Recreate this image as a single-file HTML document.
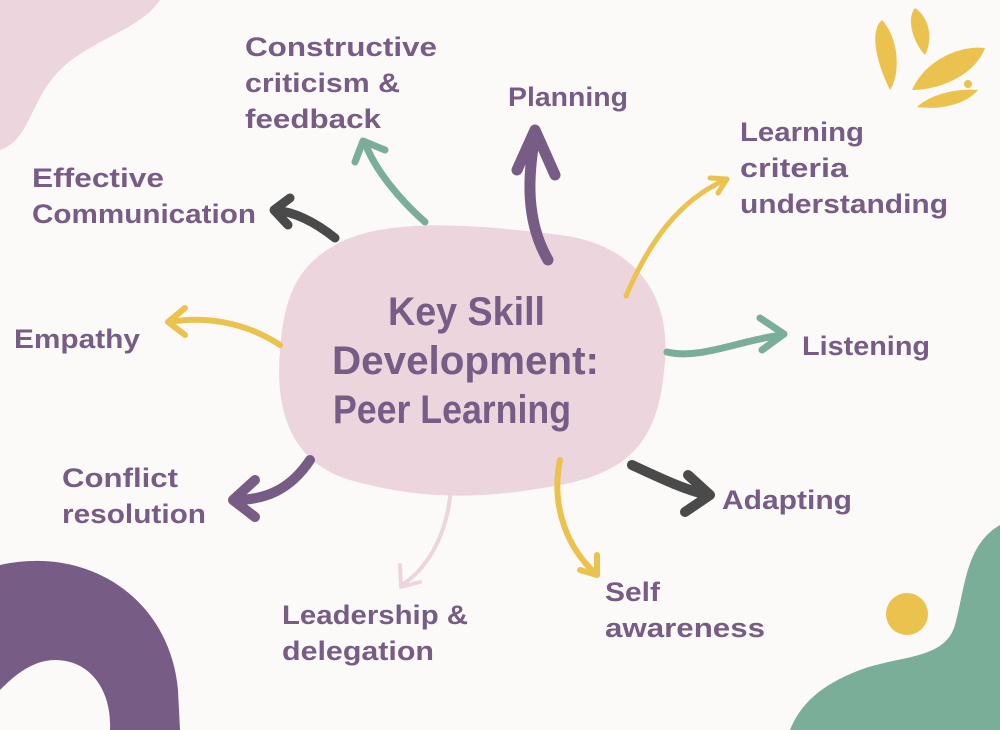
<!DOCTYPE html>
<html><head><meta charset="utf-8"><style>
html,body{margin:0;padding:0;background:#fcfaf9;}
svg{display:block}
text{font-family:"Liberation Sans",sans-serif;font-weight:bold;fill:#775c85;}
</style></head><body>
<svg width="1000" height="730" viewBox="0 0 1000 730" xmlns="http://www.w3.org/2000/svg">
<rect width="1000" height="730" fill="#fcfaf9"/>
<path d="M0,0 L160,0 C140,30 90,40 60,70 C30,100 30,140 0,150 Z" fill="#ecd5dd"/>
<path d="M0,565 C90,545 170,600 178,690 L180,730 L110,730 C112,690 90,660 55,660 C30,660 10,680 0,690 Z" fill="#775c85"/>
<path d="M1000,525 C965,545 965,590 955,625 C945,660 900,655 860,670 C820,685 800,705 790,730 L1000,730 Z" fill="#7aae98"/>
<circle cx="907" cy="614" r="21" fill="#ecc24f"/>
<g fill="#ecc24f">
<path d="M882,20 C870,30 875,60 890,90 C900,75 900,40 882,20 Z"/>
<path d="M915,8 C905,20 915,45 925,55 C933,40 930,18 915,8 Z"/>
<path d="M985,48 C960,45 925,60 912,90 C940,90 975,75 985,48 Z"/>
<path d="M978,90 C955,88 930,95 917,107 C940,110 965,105 978,90 Z"/>
<circle cx="968" cy="84" r="4"/>
</g>
<path d="M330,248 C380,215 480,225 560,235 C640,245 670,300 665,360 C660,430 640,470 560,485 C480,500 420,500 350,480 C290,462 275,410 280,350 C284,300 295,270 330,248 Z" fill="#ecd5dd"/>
<g fill="none" stroke-linecap="round" stroke-linejoin="round">
<path d="M425,222 C400,200 375,170 365,143" stroke="#7aae98" stroke-width="7"/>
<polyline points="355,162 363,141 385,150" stroke="#7aae98" stroke-width="7"/>
<path d="M548,260 C525,220 528,175 535,135" stroke="#775c85" stroke-width="11"/>
<polyline points="517,170 535,130 555,175" stroke="#775c85" stroke-width="11"/>
<path d="M626,296 C650,240 680,200 725,180" stroke="#ecc24f" stroke-width="5"/>
<polyline points="710,178 727,179 718,193" stroke="#ecc24f" stroke-width="5"/>
<path d="M335,238 C315,222 295,212 275,210" stroke="#4a4a4a" stroke-width="9"/>
<polyline points="290,198 274,210 288,225" stroke="#4a4a4a" stroke-width="9"/>
<path d="M280,345 C250,325 210,315 170,322" stroke="#ecc24f" stroke-width="6"/>
<polyline points="185,308 168,322 185,335" stroke="#ecc24f" stroke-width="6"/>
<path d="M667,352 C700,360 740,340 782,335" stroke="#7aae98" stroke-width="7"/>
<polyline points="760,318 784,334 762,350" stroke="#7aae98" stroke-width="7"/>
<path d="M310,460 C290,490 265,500 235,500" stroke="#775c85" stroke-width="10"/>
<polyline points="255,480 233,500 255,517" stroke="#775c85" stroke-width="10"/>
<path d="M632,465 C660,478 685,490 708,495" stroke="#4a4a4a" stroke-width="10"/>
<polyline points="688,475 710,495 685,512" stroke="#4a4a4a" stroke-width="10"/>
<path d="M450,497 C445,540 425,570 402,585" stroke="#ecd5dd" stroke-width="4"/>
<polyline points="400,565 401,587 420,582" stroke="#ecd5dd" stroke-width="4"/>
<path d="M560,460 C550,510 570,550 595,573" stroke="#ecc24f" stroke-width="6"/>
<polyline points="580,570 597,575 597,555" stroke="#ecc24f" stroke-width="6"/>
</g>
<g font-size="27" lengthAdjust="spacingAndGlyphs">
<text x="245" y="56" textLength="192" lengthAdjust="spacingAndGlyphs">Constructive</text>
<text x="245" y="92" textLength="155" lengthAdjust="spacingAndGlyphs">criticism &amp;</text>
<text x="245" y="128" textLength="136" lengthAdjust="spacingAndGlyphs">feedback</text>
<text x="508" y="106" textLength="120" lengthAdjust="spacingAndGlyphs">Planning</text>
<text x="740" y="141" textLength="124" lengthAdjust="spacingAndGlyphs">Learning</text>
<text x="740" y="177" textLength="108" lengthAdjust="spacingAndGlyphs">criteria</text>
<text x="740" y="213" textLength="208" lengthAdjust="spacingAndGlyphs">understanding</text>
<text x="32" y="187" textLength="132" lengthAdjust="spacingAndGlyphs">Effective</text>
<text x="32" y="223" textLength="224" lengthAdjust="spacingAndGlyphs">Communication</text>
<text x="14" y="348" textLength="126" lengthAdjust="spacingAndGlyphs">Empathy</text>
<text x="802" y="355" textLength="128" lengthAdjust="spacingAndGlyphs">Listening</text>
<text x="62" y="487" textLength="116" lengthAdjust="spacingAndGlyphs">Conflict</text>
<text x="62" y="523" textLength="144" lengthAdjust="spacingAndGlyphs">resolution</text>
<text x="722" y="509" textLength="130" lengthAdjust="spacingAndGlyphs">Adapting</text>
<text x="282" y="624" textLength="186" lengthAdjust="spacingAndGlyphs">Leadership &amp;</text>
<text x="282" y="660" textLength="152" lengthAdjust="spacingAndGlyphs">delegation</text>
<text x="605" y="601" textLength="55" lengthAdjust="spacingAndGlyphs">Self</text>
<text x="605" y="637" textLength="160" lengthAdjust="spacingAndGlyphs">awareness</text>
</g>
<g font-size="40">
<text x="388" y="325" textLength="157" lengthAdjust="spacingAndGlyphs">Key Skill</text>
<text x="332" y="374" textLength="267" lengthAdjust="spacingAndGlyphs">Development:</text>
<text x="333" y="423" textLength="238" lengthAdjust="spacingAndGlyphs">Peer Learning</text>
</g>
</svg>
</body></html>
